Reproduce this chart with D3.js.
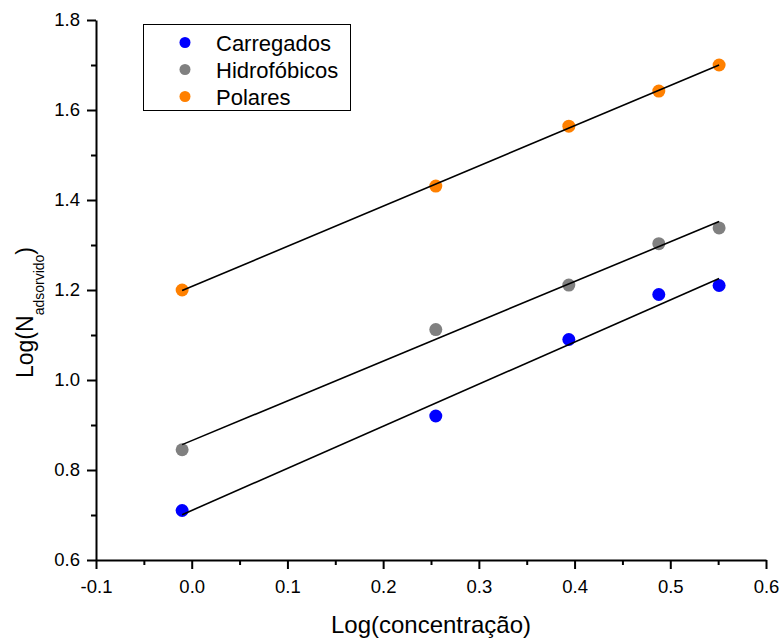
<!DOCTYPE html>
<html>
<head>
<meta charset="utf-8">
<script src="https://cdn.jsdelivr.net/npm/d3@7"></script>
<style>
  body { margin: 0; background: #fff; }
  svg { display: block; font-family: "Liberation Sans", Arial, sans-serif; }
  .axis path, .axis line { stroke: #000; stroke-width: 2; }
  .axis text { font-size: 18.5px; fill: #000; font-family: "Liberation Sans", Arial, sans-serif; }
  .fit { stroke: #000; stroke-width: 1.6; fill: none; }
</style>
</head>
<body>
<div id="chart"></div>
<script>
// Log(concentração) values shared by all series
const conc = [-0.01, 0.255, 0.394, 0.488, 0.551];
// Log(N adsorvido) per group
const carregados = [0.71, 0.92, 1.09, 1.19, 1.21];
const hidrofobicos = [0.845, 1.112, 1.211, 1.303, 1.338];
const polares = [1.2, 1.431, 1.564, 1.642, 1.7];

const seriesNames = ["Carregados", "Hidrofóbicos", "Polares"];
const seriesColors = ["#0000ff", "#808080", "#ff8000"];
const seriesValues = [carregados, hidrofobicos, polares];

const xTicks = [-0.1, 0, 0.1, 0.2, 0.3, 0.4, 0.5, 0.6];
const xMinorTicks = [-0.05, 0.05, 0.15, 0.25, 0.35, 0.45, 0.55];
const yTicks = [0.6, 0.8, 1.0, 1.2, 1.4, 1.6, 1.8];
const yMinorTicks = [0.7, 0.9, 1.1, 1.3, 1.5, 1.7];

const width = 784, height = 640;
const margin = { top: 20, right: 18, bottom: 80, left: 96 };

// plain hyphen for negatives, like the original
const fmt = d => d3.format(".1f")(d).replace("\u2212", "-");

const svg = d3.select("#chart").append("svg")
    .attr("width", width)
    .attr("height", height);

const x = d3.scaleLinear().domain([-0.1, 0.6]).range([margin.left, width - margin.right]);
const y = d3.scaleLinear().domain([0.6, 1.8]).range([height - margin.bottom, margin.top]);

// least squares fit for each series
function fit(xs, ys) {
    const mx = d3.mean(xs), my = d3.mean(ys);
    let sxy = 0, sxx = 0;
    xs.forEach((v, i) => { sxy += (v - mx) * (ys[i] - my); sxx += (v - mx) * (v - mx); });
    const slope = sxy / sxx;
    return v => my + slope * (v - mx);
}

// minor ticks
svg.append("g")
    .attr("class", "axis")
    .attr("transform", `translate(0,${y(0.6)})`)
    .call(d3.axisBottom(x).tickValues(xMinorTicks).tickFormat("").tickSize(5).tickSizeOuter(0))
    .call(g => g.select(".domain").remove());

svg.append("g")
    .attr("class", "axis")
    .attr("transform", `translate(${x(-0.1)},0)`)
    .call(d3.axisLeft(y).tickValues(yMinorTicks).tickFormat("").tickSize(5).tickSizeOuter(0))
    .call(g => g.select(".domain").remove());

// major axes
svg.append("g")
    .attr("class", "axis")
    .attr("transform", `translate(0,${y(0.6)})`)
    .call(d3.axisBottom(x).tickValues(xTicks).tickFormat(fmt).tickSize(9).tickSizeOuter(0).tickPadding(11));

svg.append("g")
    .attr("class", "axis")
    .attr("transform", `translate(${x(-0.1)},0)`)
    .call(d3.axisLeft(y).tickValues(yTicks).tickFormat(fmt).tickSize(9).tickSizeOuter(0).tickPadding(7));

// points
seriesValues.forEach((vals, s) => {
    svg.append("g")
        .selectAll("circle")
        .data(vals)
        .join("circle")
        .attr("cx", (d, i) => x(conc[i]))
        .attr("cy", d => y(d))
        .attr("r", 6.5)
        .attr("fill", seriesColors[s]);
});

// fit lines, drawn over the points
seriesValues.forEach(vals => {
    const f = fit(conc, vals);
    const ends = d3.extent(conc);
    svg.append("line")
        .attr("class", "fit")
        .attr("x1", x(ends[0]))
        .attr("y1", y(f(ends[0])))
        .attr("x2", x(ends[1]))
        .attr("y2", y(f(ends[1])));
});

// axis titles
svg.append("text")
    .attr("x", (x.range()[0] + x.range()[1]) / 2)
    .attr("y", 633)
    .attr("text-anchor", "middle")
    .style("font-size", "24px")
    .text("Log(concentração)");

const yLabel = svg.append("text")
    .attr("transform", "translate(33,378) rotate(-90)")
    .attr("text-anchor", "start")
    .style("font-size", "23px");
yLabel.append("tspan").text("Log(N");
yLabel.append("tspan").attr("dy", 11).style("font-size", "14px").text("adsorvido");
yLabel.append("tspan").attr("dy", -11).text(")");

// legend
const legend = svg.append("g");
legend.append("rect")
    .attr("x", 143.5).attr("y", 24.5)
    .attr("width", 207).attr("height", 86)
    .attr("fill", "#fff")
    .attr("stroke", "#000")
    .attr("stroke-width", 1);

seriesNames.forEach((name, i) => {
    const cy = 42.5 + i * 27;
    legend.append("circle")
        .attr("cx", 185).attr("cy", cy).attr("r", 5.5)
        .attr("fill", seriesColors[i]);
    legend.append("text")
        .attr("x", 216).attr("y", cy + 8)
        .style("font-size", "22px")
        .text(name);
});
</script>
</body>
</html>
